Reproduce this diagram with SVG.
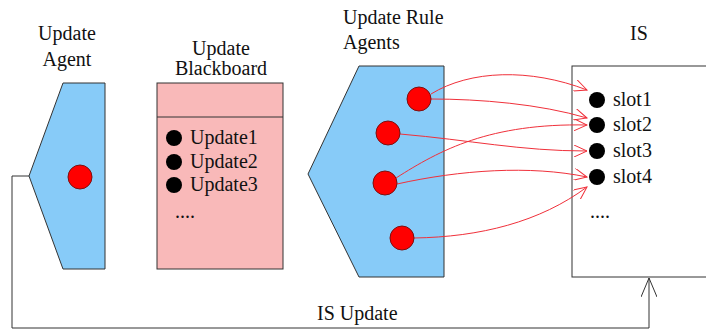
<svg xmlns="http://www.w3.org/2000/svg" width="706" height="331" viewBox="0 0 706 331">
  <style>
    text { font-family: "Liberation Serif", "Times New Roman", serif; font-size: 20px; fill: #111; }
    .agent { fill: #87cbf8; stroke: #333; stroke-width: 1; }
    .board { fill: #f9b9b9; stroke: #333; stroke-width: 1; }
    .box { fill: #fff; stroke: #333; stroke-width: 1; }
    .token { fill: #f00; stroke: #7a1010; stroke-width: 1; }
    .dot { fill: #000; }
    .link { fill: none; stroke: #f0303a; stroke-width: 1; marker-end: url(#open-red); }
    .loop { fill: none; stroke: #333; stroke-width: 1; marker-end: url(#open-dark); }
  </style>
  <defs>
    <marker id="open-red" viewBox="0 0 14 12" refX="13" refY="6" markerWidth="14" markerHeight="12" markerUnits="userSpaceOnUse" orient="auto">
      <path d="M0,0 L13,6 L0,12" fill="none" stroke="#f0303a" stroke-width="1"/>
    </marker>
    <marker id="open-dark" viewBox="0 0 20 16" refX="19" refY="8" markerWidth="20" markerHeight="16" markerUnits="userSpaceOnUse" orient="auto">
      <path d="M0,0 L19,8 L0,16" fill="none" stroke="#333" stroke-width="1"/>
    </marker>
  </defs>

  <!-- Update Agent -->
  <g id="update-agent">
    <text x="67" y="40" text-anchor="middle">Update</text>
    <text x="67" y="66" text-anchor="middle">Agent</text>
    <polygon class="agent" points="63,83 105,83 105,269 63,269 29,176"/>
    <circle class="token" cx="80" cy="177" r="12"/>
  </g>

  <!-- Update Blackboard -->
  <g id="update-blackboard">
    <text x="221" y="55" text-anchor="middle">Update</text>
    <text x="221" y="75" text-anchor="middle">Blackboard</text>
    <rect class="board" x="157" y="83" width="126" height="186"/>
    <line x1="157" y1="117" x2="283" y2="117" stroke="#333" stroke-width="1"/>
    <circle class="dot" cx="174" cy="138" r="8"/>
    <circle class="dot" cx="174" cy="162" r="8"/>
    <circle class="dot" cx="174" cy="185" r="8"/>
    <text x="190" y="144">Update1</text>
    <text x="190" y="168">Update2</text>
    <text x="190" y="191">Update3</text>
    <text x="175" y="218">....</text>
  </g>

  <!-- Update Rule Agents -->
  <g id="update-rule-agents">
    <text x="343" y="24">Update Rule</text>
    <text x="343" y="49">Agents</text>
    <polygon class="agent" points="359,66 444,66 444,277 359,277 308,174"/>
  </g>

  <!-- IS -->
  <g id="is">
    <text x="639" y="40" text-anchor="middle">IS</text>
    <rect class="box" x="572" y="66" width="140" height="211"/>
    <circle class="dot" cx="597" cy="100" r="8"/>
    <circle class="dot" cx="597" cy="125" r="8"/>
    <circle class="dot" cx="597" cy="151" r="8"/>
    <circle class="dot" cx="597" cy="177" r="8"/>
    <text x="613" y="106">slot1</text>
    <text x="613" y="131">slot2</text>
    <text x="613" y="157">slot3</text>
    <text x="613" y="183">slot4</text>
    <text x="590" y="218">....</text>
  </g>

  <!-- Connectors -->
  <g id="connectors">
    <path class="link" d="M431,94 C470,70 530,68 587,90"/>
    <path class="link" d="M431,99 C480,99 540,104 587,118"/>
    <path class="link" d="M400,134 C470,140 520,151 587,151"/>
    <path class="link" d="M396,178 C440,150 490,123 587,125"/>
    <path class="link" d="M397,184 C460,170 530,165 587,177"/>
    <path class="link" d="M414,238 C480,237 540,222 587,187"/>
    <polyline class="loop" points="29,176 12,176 12,328 649,328 649,278"/>
    <text x="317" y="320">IS Update</text>
  </g>

  <!-- Rule agent tokens drawn over the link starts -->
  <g id="rule-tokens">
    <circle class="token" cx="419" cy="99" r="12"/>
    <circle class="token" cx="388" cy="133" r="12"/>
    <circle class="token" cx="385" cy="183" r="12"/>
    <circle class="token" cx="402" cy="238" r="12"/>
  </g>
</svg>
